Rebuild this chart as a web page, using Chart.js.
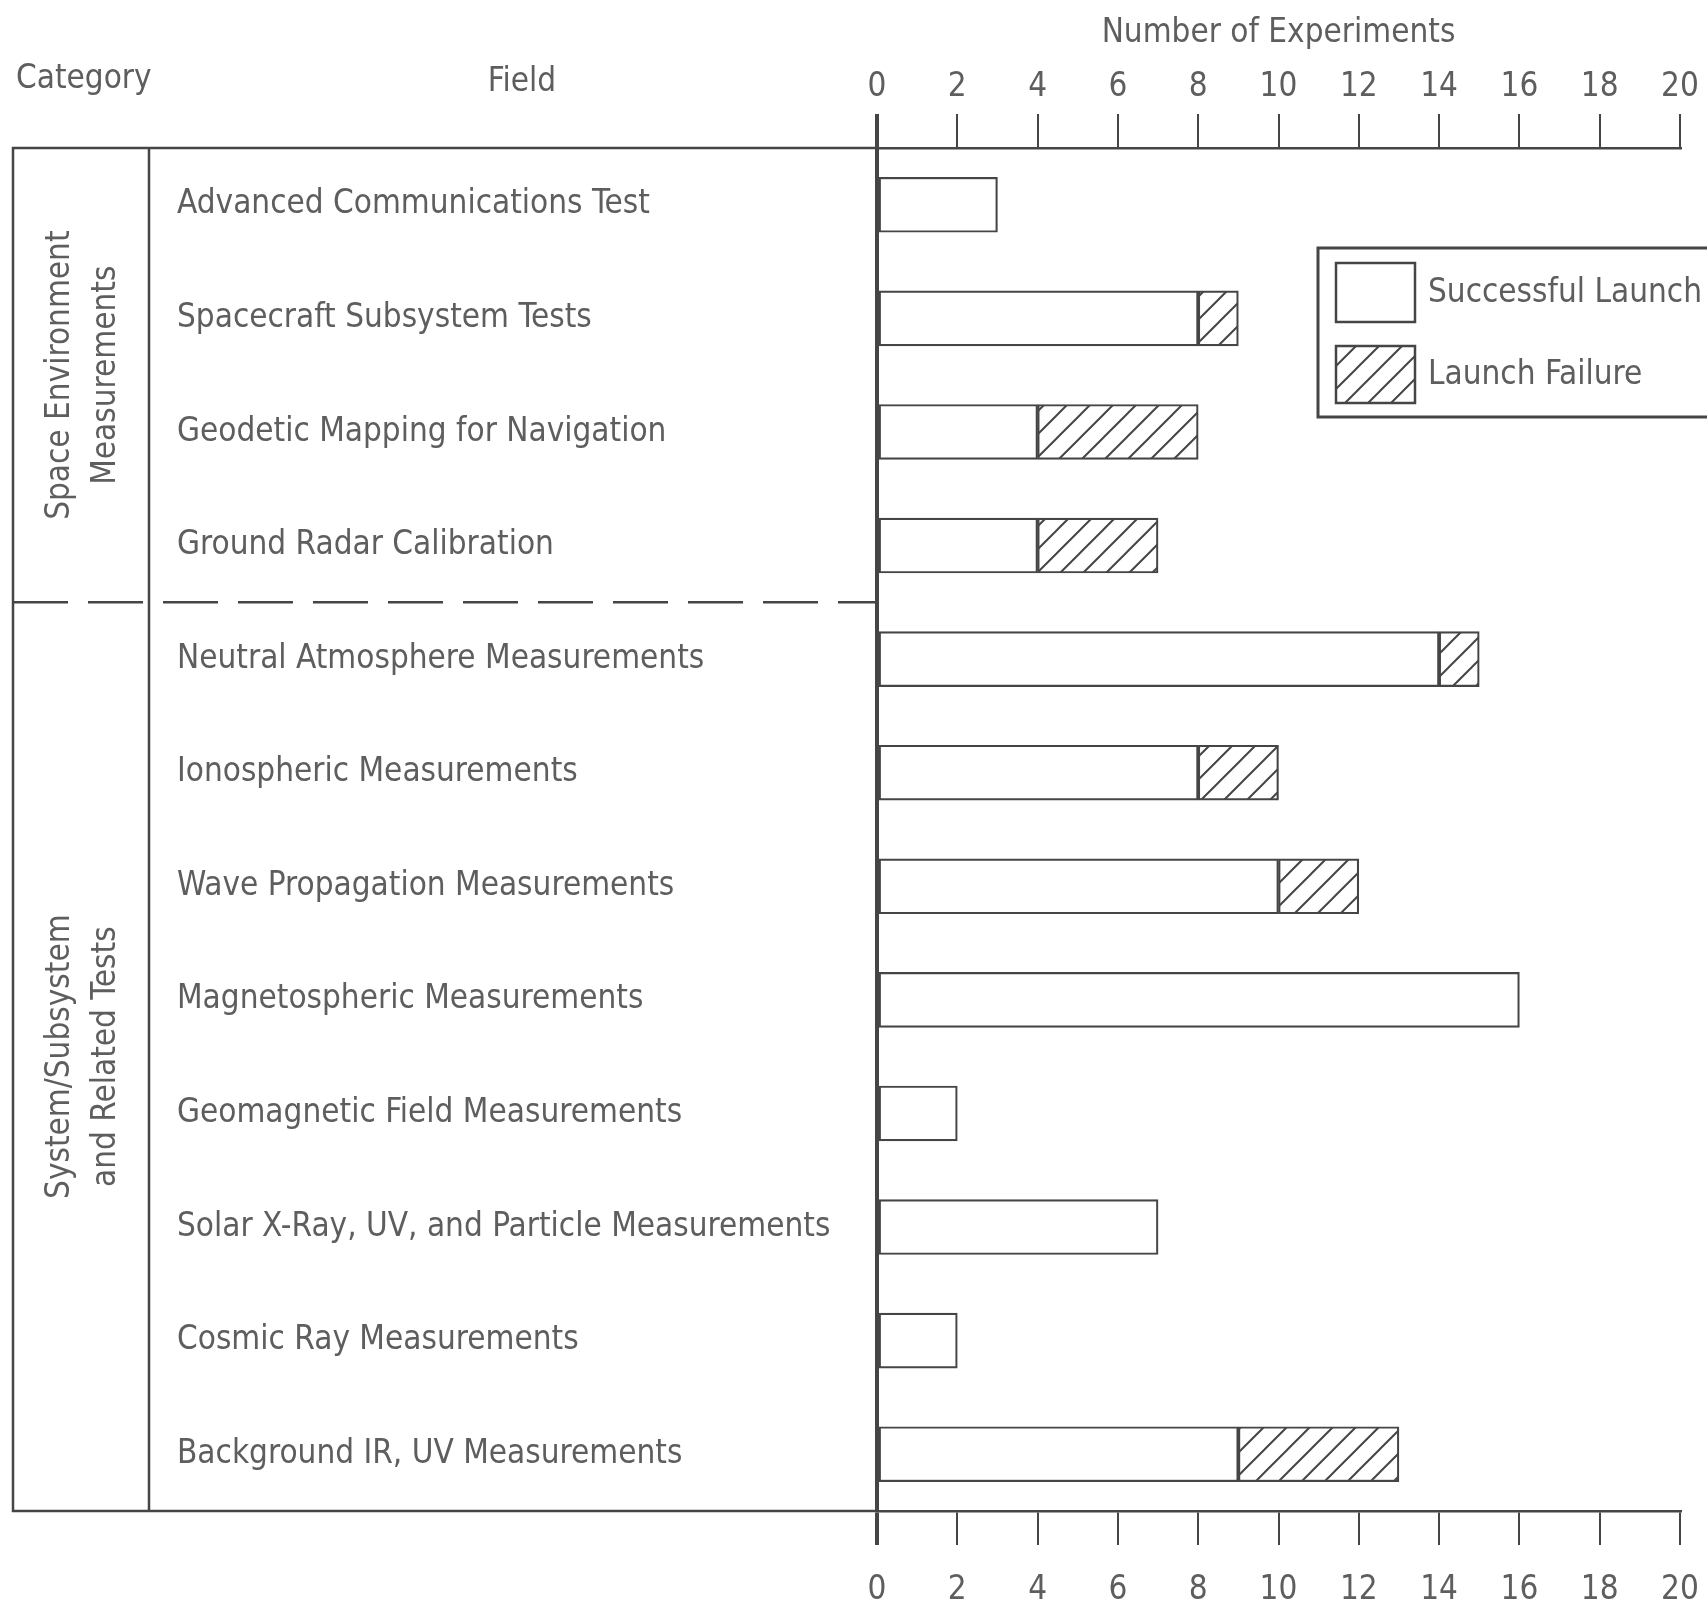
<!DOCTYPE html>
<html>
<head>
<meta charset="utf-8">
<script src="https://cdn.jsdelivr.net/npm/chart.js@4.4.1/dist/chart.umd.min.js"></script>
<style>
  html, body { margin: 0; padding: 0; background: #fff; }
  #wrap { width: 1707px; height: 1609px; position: relative; }
</style>
</head>
<body>
<div id="wrap"><canvas id="myChart"></canvas></div>
<script>
// Dados
const fields = [
    'Advanced Communications Test',
    'Spacecraft Subsystem Tests',
    'Geodetic Mapping for Navigation',
    'Ground Radar Calibration',
    'Neutral Atmosphere Measurements',
    'Ionospheric Measurements',
    'Wave Propagation Measurements',
    'Magnetospheric Measurements',
    'Geomagnetic Field Measurements',
    'Solar X-Ray, UV, and Particle Measurements',
    'Cosmic Ray Measurements',
    'Background IR, UV Measurements'
];
const successful = [3, 8, 4, 4, 14, 8, 10, 16, 2, 7, 2, 9];
const failures = [0, 1, 4, 3, 1, 2, 2, 0, 0, 0, 0, 4];
const seriesNames = ['Successful Launch', 'Launch Failure'];
const categoryNames = [['Space Environment', 'Measurements'], ['System/Subsystem', 'and Related Tests']];
const categoryRows = [4, 8];
const xTicks = [0, 2, 4, 6, 8, 10, 12, 14, 16, 18, 20];

const FONT = "'Liberation Sans Narrow', 'DejaVu Sans Condensed', 'Liberation Sans', sans-serif";
const SIZE = 33;
const INK = '#454545';
const TEXT = '#5e5e5e';

// hachura para "Launch Failure"
function makeHatch() {
    const s = 23;
    const c = document.createElement('canvas');
    c.width = s;
    c.height = s;
    const g = c.getContext('2d');
    g.fillStyle = '#fff';
    g.fillRect(0, 0, s, s);
    g.strokeStyle = INK;
    g.lineWidth = 2;
    g.beginPath();
    g.moveTo(-2, s + 2); g.lineTo(s + 2, -2);
    g.moveTo(-3, 3); g.lineTo(3, -3);
    g.moveTo(s - 3, s + 3); g.lineTo(s + 3, s - 3);
    g.stroke();
    return g.createPattern(c, 'repeat');
}
const hatch = makeHatch();

// moldura da tabela, categorias e legenda
const frame = {
    id: 'frame',
    afterDraw(chart) {
        const ctx = chart.ctx;
        const a = chart.chartArea;
        const y = chart.scales.y;
        const left = 13, colX = 149;
        ctx.save();
        ctx.strokeStyle = INK;
        ctx.lineWidth = 2.5;
        ctx.beginPath();
        ctx.moveTo(a.left, a.top);
        ctx.lineTo(left, a.top);
        ctx.lineTo(left, a.bottom);
        ctx.lineTo(a.left, a.bottom);
        ctx.moveTo(colX, a.top);
        ctx.lineTo(colX, a.bottom);
        ctx.stroke();

        // separador tracejado
        const sepY = (y.getPixelForValue(categoryRows[0] - 1) + y.getPixelForValue(categoryRows[0])) / 2;
        ctx.setLineDash([55, 20]);
        ctx.beginPath();
        ctx.moveTo(left, sepY);
        ctx.lineTo(a.left, sepY);
        ctx.stroke();
        ctx.setLineDash([]);

        // textos
        ctx.fillStyle = TEXT;
        ctx.font = SIZE + 'px ' + FONT;
        ctx.textBaseline = 'middle';
        ctx.textAlign = 'left';
        ctx.fillText('Category', 16, 79);
        ctx.textAlign = 'center';
        ctx.fillText('Field', 522, 82);

        const bounds = [a.top, sepY, a.bottom];
        categoryNames.forEach((lines, i) => {
            const cy = (bounds[i] + bounds[i + 1]) / 2;
            ctx.save();
            ctx.translate((left + colX) / 2 + 2, cy);
            ctx.rotate(-Math.PI / 2);
            ctx.fillText(lines[0], 0, -23);
            ctx.fillText(lines[1], 0, 23);
            ctx.restore();
        });

        // legenda
        ctx.lineWidth = 3;
        ctx.strokeRect(1318, 248, 400, 169);
        const boxes = [[263, 59], [346, 57]];
        chart.data.datasets.forEach((ds, i) => {
            const [top, h] = boxes[i];
            ctx.fillStyle = ds.backgroundColor;
            ctx.fillRect(1336, top, 79, h);
            ctx.lineWidth = 2.5;
            ctx.strokeRect(1336, top, 79, h);
            ctx.fillStyle = TEXT;
            ctx.textAlign = 'left';
            ctx.fillText(ds.label, 1428, top + h / 2 + 1);
        });
        ctx.restore();
    }
};

function setTicks(scale) {
    scale.ticks = xTicks.map(v => ({ value: v }));
}

const xGrid = {
    drawOnChartArea: false,
    drawTicks: true,
    color: INK,
    lineWidth: c => (c.tick && c.tick.value === 0 ? 4 : 2),
    tickLength: 34
};

const config = {
    type: 'bar',
    data: {
        labels: fields,
        datasets: [{
            label: seriesNames[0],
            data: successful,
            backgroundColor: '#ffffff',
            borderColor: INK,
            borderWidth: 2.2,
            borderSkipped: false,
            barThickness: 55
        }, {
            label: seriesNames[1],
            data: failures.map(v => v || null),
            backgroundColor: hatch,
            borderColor: INK,
            borderWidth: 2.2,
            borderSkipped: false,
            barThickness: 55
        }]
    },
    options: {
        indexAxis: 'y',
        responsive: true,
        maintainAspectRatio: false,
        animation: false,
        layout: { padding: { left: 177, right: 27, top: 0, bottom: 0 } },
        plugins: {
            legend: { display: false },
            tooltip: { enabled: false }
        },
        scales: {
            x: {
                type: 'linear',
                position: 'top',
                stacked: true,
                min: 0,
                max: 20,
                afterBuildTicks: setTicks,
                grid: xGrid,
                border: { display: true, color: INK, width: 2.5 },
                ticks: { font: { family: FONT, size: SIZE }, color: TEXT, padding: 7 },
                title: {
                    display: true,
                    text: 'Number of Experiments',
                    font: { family: FONT, size: SIZE },
                    color: TEXT,
                    padding: { top: 14, bottom: 0 }
                },
                afterFit: s => { s.height = 148; s.paddingLeft = 0; s.paddingRight = 0; }
            },
            x2: {
                type: 'linear',
                position: 'bottom',
                min: 0,
                max: 20,
                afterBuildTicks: setTicks,
                grid: xGrid,
                border: { display: true, color: INK, width: 2.5 },
                ticks: { font: { family: FONT, size: SIZE }, color: TEXT, padding: 26 },
                afterFit: s => { s.height = 98; s.paddingLeft = 0; s.paddingRight = 0; }
            },
            y: {
                stacked: true,
                offset: true,
                grid: { display: false, drawTicks: false },
                border: { display: true, color: INK, width: 4 },
                ticks: { font: { family: FONT, size: SIZE }, color: TEXT, crossAlign: 'far' },
                afterFit: s => { s.width = 700; }
            }
        }
    },
    plugins: [frame]
};

var myChart = new Chart(document.getElementById('myChart'), config);
</script>
</body>
</html>
